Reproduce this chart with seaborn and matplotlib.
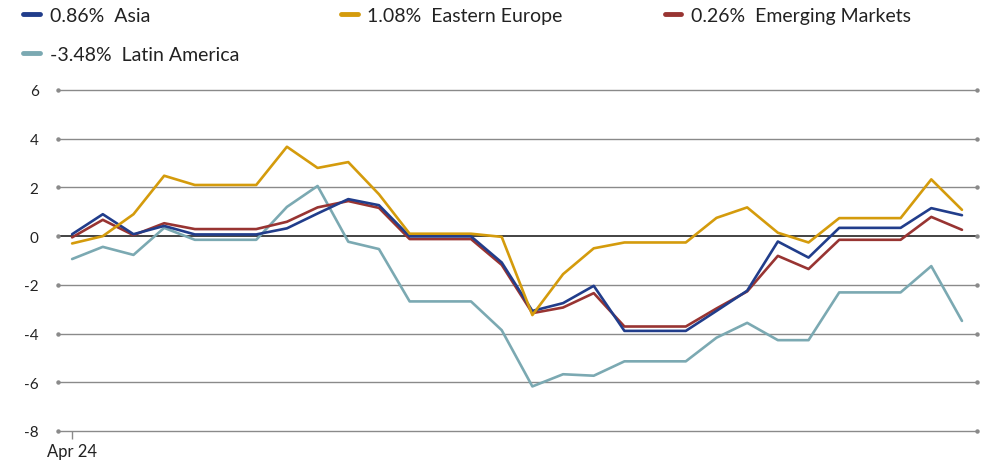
import pandas as pd
import matplotlib.pyplot as plt
import seaborn as sns
from matplotlib.lines import Line2D

# Series values (30 periods starting Apr 24)
periods = list(range(30))
asia = [0.08, 0.90, 0.08, 0.42, 0.07, 0.07, 0.07, 0.32, 0.93, 1.52,
        1.27, -0.01, -0.01, -0.01, -1.08, -3.07, -2.75, -2.04, -3.89, -3.89,
        -3.89, -3.07, -2.24, -0.22, -0.88, 0.34, 0.34, 0.34, 1.15, 0.86]
eastern_europe = [-0.30, 0.00, 0.90, 2.48, 2.10, 2.10, 2.10, 3.67, 2.80, 3.04,
                  1.72, 0.10, 0.10, 0.10, -0.03, -3.24, -1.56, -0.50, -0.26, -0.26,
                  -0.26, 0.75, 1.18, 0.14, -0.26, 0.74, 0.74, 0.74, 2.33, 1.08]
emerging = [-0.05, 0.67, 0.04, 0.53, 0.29, 0.29, 0.29, 0.59, 1.18, 1.44,
            1.16, -0.12, -0.12, -0.12, -1.18, -3.16, -2.93, -2.34, -3.71, -3.71,
            -3.71, -2.97, -2.27, -0.81, -1.35, -0.15, -0.15, -0.15, 0.79, 0.26]
latin_america = [-0.94, -0.44, -0.77, 0.34, -0.15, -0.15, -0.15, 1.20, 2.06, -0.23,
                 -0.53, -2.68, -2.68, -2.68, -3.86, -6.17, -5.67, -5.73, -5.14, -5.14,
                 -5.14, -4.17, -3.56, -4.27, -4.27, -2.31, -2.31, -2.31, -1.23, -3.48]

names = ['Asia', 'Eastern Europe', 'Emerging Markets', 'Latin America']
legend_labels = ['0.86%  Asia', '1.08%  Eastern Europe', '0.26%  Emerging Markets', '-3.48%  Latin America']
colors = ['#213D8B', '#D49B0C', '#983432', '#7BA9B2']
yticks = [-8, -6, -4, -2, 0, 2, 4, 6]

df = pd.DataFrame({'period': periods * 4,
                   'value': asia + eastern_europe + emerging + latin_america,
                   'region': [n for n in names for _ in periods]})

sns.set_style('white')
plt.rcParams['font.family'] = ['Lato', 'DejaVu Sans']

fig = plt.figure(figsize=(9.87, 4.64), dpi=100)
ax = fig.add_axes([58 / 987, 1 - 432 / 464, (977 - 58) / 987, (432 - 91) / 464])

xmin, xmax = -0.46, 29.49
# gridlines first, zero line darker, little dots at both ends
for y in yticks:
    ax.axhline(y, color='#222222' if y == 0 else '#8a8a8a', lw=1.2 if y == 0 else 1.0,
               zorder=1, clip_on=False)
    ax.plot([xmin, xmax], [y, y], ls='none', marker='o', ms=2.2, color='#8a8a8a',
            clip_on=False, zorder=1)

draw_order = ['Latin America', 'Emerging Markets', 'Asia', 'Eastern Europe']
palette = dict(zip(names, colors))
for name in draw_order:
    sns.lineplot(data=df[df.region == name], x='period', y='value', color=palette[name],
                 lw=1.9, ax=ax, zorder=3, legend=False)

ax.set_xlim(xmin, xmax)
ax.set_ylim(-8, 6)
ax.set_yticks(yticks)
ax.set_yticklabels([str(t) for t in yticks])
ax.set_xticks([0])
ax.set_xticklabels(['Apr 24'])
ax.set_xlabel('')
ax.set_ylabel('')
for s in ax.spines.values():
    s.set_visible(False)
ax.tick_params(axis='y', length=0, pad=14, labelsize=11, colors='#222222')
ax.tick_params(axis='x', bottom=True, direction='out', length=6, width=1, color='#8a8a8a',
               pad=3, labelsize=12, labelcolor='#222222')

# legend: column-first order so Latin America sits under Asia
handles = [Line2D([0], [0], color=c, lw=3.5) for c in colors]
order = [0, 3, 1, 2]
fig.legend([handles[i] for i in order], [legend_labels[i] for i in order],
           loc='upper left', bbox_to_anchor=(0.006, 1.02), ncol=3, frameon=False,
           fontsize=14, handlelength=0.85, handletextpad=0.5, columnspacing=5.25,
           labelspacing=1.1, labelcolor='#222222')

fig.savefig('out.png', dpi=100)
